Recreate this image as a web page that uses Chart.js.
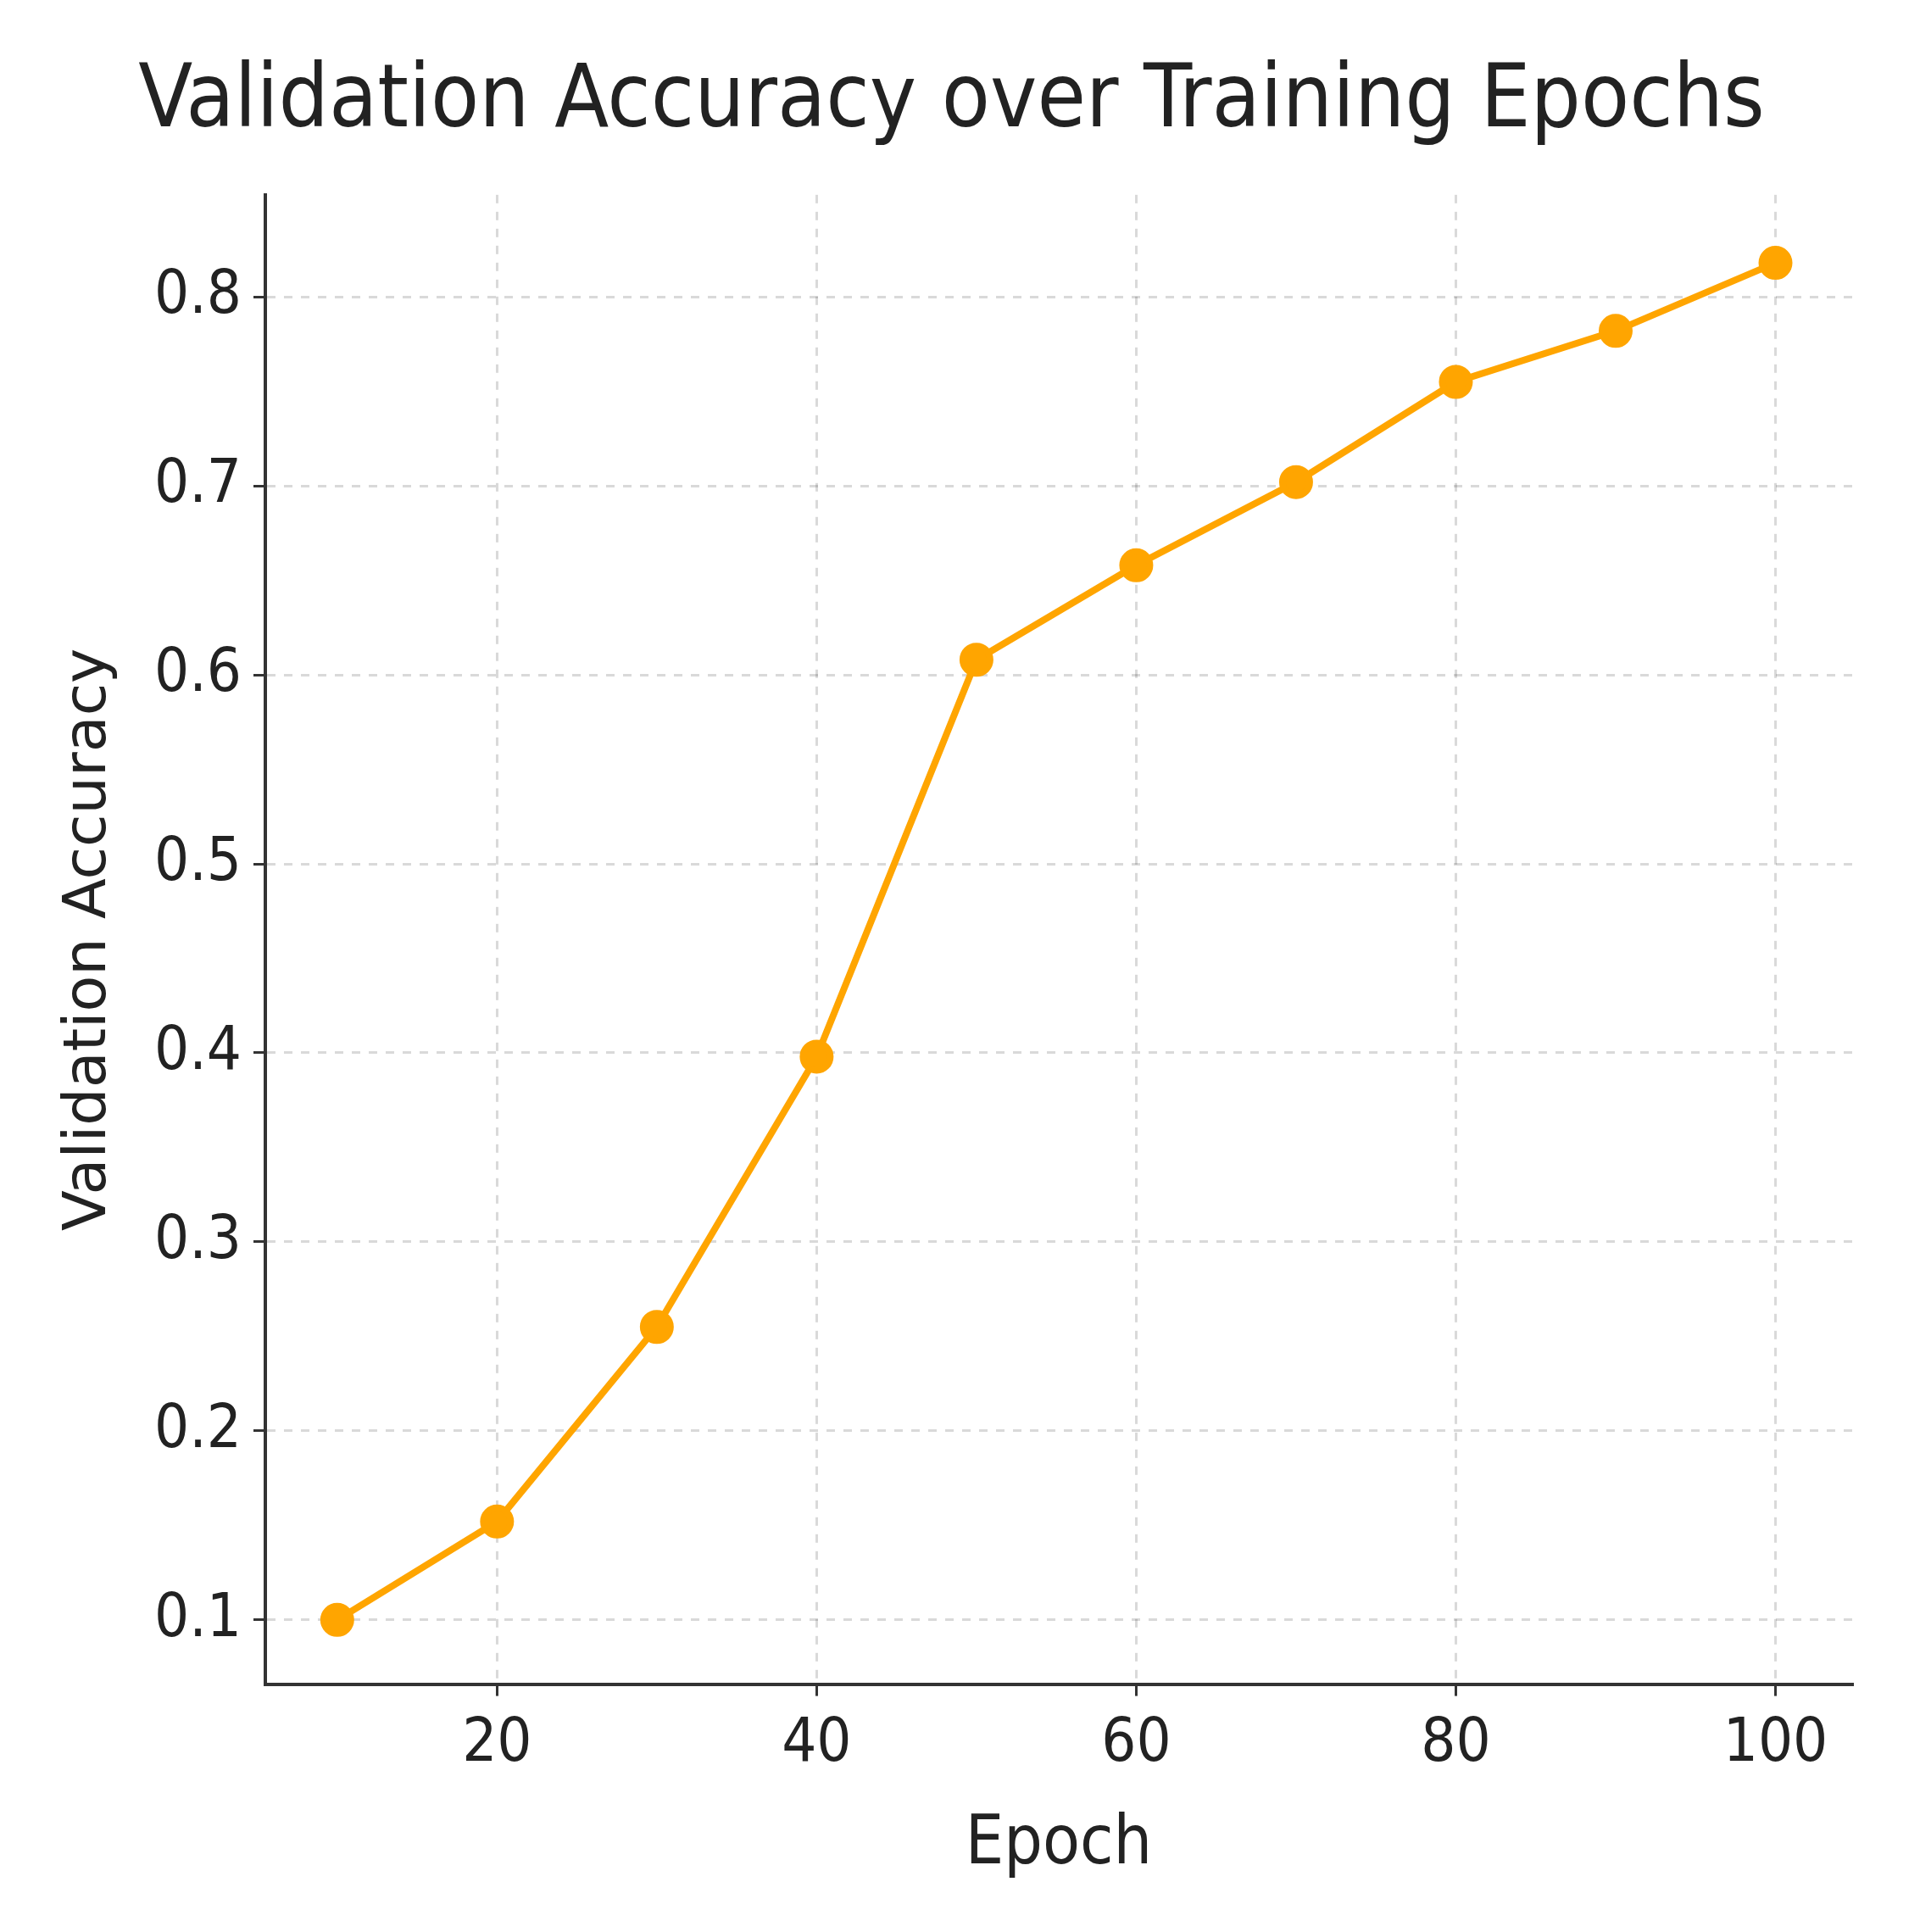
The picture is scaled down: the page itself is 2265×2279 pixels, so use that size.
<!DOCTYPE html>
<html><head><meta charset="utf-8">
<script src="https://cdn.jsdelivr.net/npm/chart.js@4"></script>
<style>html,body{margin:0;background:#fff}#wrap{width:2265px;height:2279px}</style>
</head><body><div id="wrap"><canvas id="c"></canvas></div>
<script>
const epochs = [10, 20, 30, 40, 50, 60, 70, 80, 90, 100];
const accuracy = [0.10, 0.152, 0.255, 0.398, 0.608, 0.658, 0.702, 0.755, 0.782, 0.818];
const xTicks = [20, 40, 60, 80, 100];
const yTicks = [0.1, 0.2, 0.3, 0.4, 0.5, 0.6, 0.7, 0.8];

const orange = "#ffa500";
const FONT = "'DejaVu Sans Condensed', 'Liberation Sans Narrow', 'DejaVu Sans'";
const gridStyle = { color: "rgba(0,0,0,0.15)", lineWidth: 3, drawTicks: true, tickLength: 14, tickColor: "#333", tickWidth: 3 };

new Chart(document.getElementById("c"), {
  type: "line",
  data: {
    datasets: [{
      data: epochs.map((e, i) => ({ x: e, y: accuracy[i] })),
      borderColor: orange,
      backgroundColor: orange,
      borderWidth: 8,
      pointRadius: 16,
      pointHoverRadius: 16,
      tension: 0,
    }],
  },
  options: {
    responsive: true,
    maintainAspectRatio: false,
    animation: false,
    layout: { padding: { top: 10, right: 80, bottom: 50, left: 60 } },
    plugins: {
      legend: { display: false },
      tooltip: { enabled: false },
      title: {
        display: true,
        text: "Validation Accuracy over Training Epochs",
        color: "#222",
        font: { family: FONT, size: 104, weight: "normal" },
        padding: { top: 50, bottom: 45 },
      },
    },
    scales: {
      x: {
        type: "linear",
        min: 5.5, max: 104.8,
        afterBuildTicks: (s) => { s.ticks = xTicks.map((v) => ({ value: v })); },
        ticks: { color: "#222", font: { family: FONT, size: 72 }, padding: 14 },
        grid: { ...gridStyle },
        border: { display: true, color: "#333", width: 4, dash: [10, 10] },
        title: { display: true, text: "Epoch", color: "#222", font: { family: FONT, size: 80 }, padding: { top: 14 } },
      },
      y: {
        min: 0.066, max: 0.854,
        afterBuildTicks: (s) => { s.ticks = yTicks.map((v) => ({ value: v })); },
        ticks: { color: "#222", font: { family: FONT, size: 72 }, padding: 14, callback: (v) => v.toFixed(1) },
        grid: { ...gridStyle },
        border: { display: true, color: "#333", width: 4, dash: [10, 10] },
        title: { display: true, text: "Validation Accuracy", color: "#222", font: { family: "'DejaVu Sans'", size: 70 }, padding: { bottom: 20 } },
      },
    },
  },
});
</script></body></html>
